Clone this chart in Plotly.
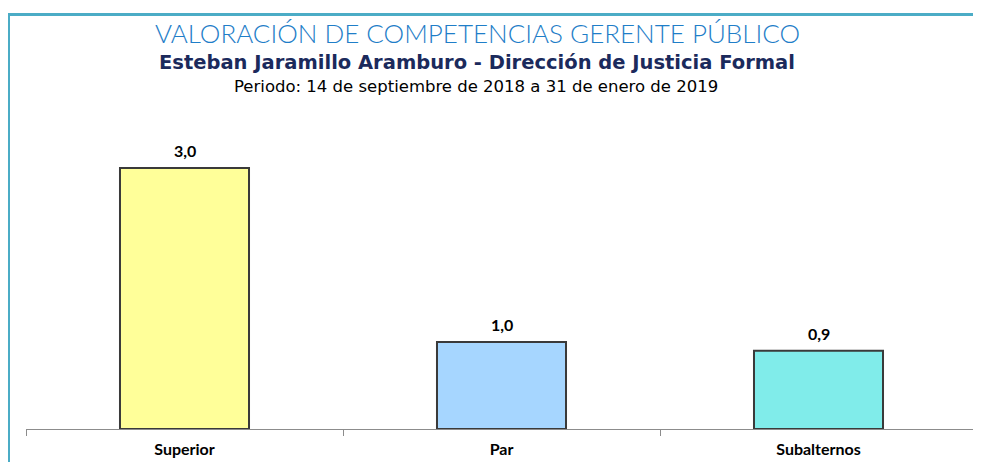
import plotly.graph_objects as go

categories = ["Superior", "Par", "Subalternos"]
values = [3.0, 1.0, 0.9]
colors = ["#FFFF99", "#A6D6FF", "#80ECEA"]

title = "VALORACIÓN DE COMPETENCIAS GERENTE PÚBLICO"
subtitle = "Esteban Jaramillo Aramburo - Dirección de Justicia Formal"
period = "Periodo: 14 de septiembre de 2018 a 31 de enero de 2019"

# page body has an 8px margin; figure coordinates = page coordinates - 8
OFF = 8
W, H = 981 - OFF, 462 - OFF
ml, mr, mt, mb = 26 - OFF, 4, 110 - OFF, 33
pw = W - ml - mr
ph = H - mt - mb

def px_x(x):  # page x -> paper x
    return (x - OFF - ml) / pw

def px_y(y):  # page y -> paper y
    return (H - mb - (y - OFF)) / ph

fig = go.Figure()
fig.add_trace(go.Bar(
    x=categories, y=values,
    marker=dict(color=colors, line=dict(color="#3A3A3A", width=2)),
    hoverinfo="skip",
))

annotations = [
    dict(text=title, xref="paper", yref="paper", x=px_x(477), y=px_y(33),
         showarrow=False, xanchor="center", yanchor="middle",
         font=dict(family="Lato", size=26, color="#1F7EC8", weight=300)),
    dict(text=subtitle, xref="paper", yref="paper", x=px_x(477), y=px_y(62),
         showarrow=False, xanchor="center", yanchor="middle",
         font=dict(family="DejaVu Sans", size=19.5, color="#1B2A5C", weight="bold")),
    dict(text=period, xref="paper", yref="paper", x=px_x(476), y=px_y(87),
         showarrow=False, xanchor="center", yanchor="middle",
         font=dict(family="DejaVu Sans", size=16.5, color="#000000")),
]
for c, v in zip(categories, values):
    annotations.append(dict(
        text=f"{v:.1f}".replace(".", ","), x=c, y=v, xref="x", yref="y",
        showarrow=False, xanchor="center", yanchor="bottom", yshift=6,
        font=dict(family="Lato", size=16, color="#000000", weight="bold")))

fig.update_layout(
    width=W, height=H,
    margin=dict(l=ml, r=mr, t=mt, b=mb, autoexpand=False),
    plot_bgcolor="white", paper_bgcolor="white",
    separators=",.",
    bargap=0.593,
    showlegend=False,
    xaxis=dict(showline=True, linecolor="#8C8C8C", linewidth=1,
               ticks="outside", tickson="boundaries", ticklen=6,
               tickcolor="#8C8C8C", ticklabelstandoff=6, automargin=False,
               tickfont=dict(family="Lato", size=16, color="#000000", weight="bold"),
               showgrid=False, fixedrange=True),
    yaxis=dict(range=[0, ph / 87.0], visible=False, showgrid=False,
               fixedrange=True, automargin=False),
    shapes=[dict(type="rect", xref="paper", yref="paper",
                 x0=px_x(8.5), x1=px_x(1000), y0=px_y(14.5), y1=px_y(500),
                 line=dict(color="#4BACC6", width=3), layer="below")],
    annotations=annotations,
)

fig.write_html("out.html")
